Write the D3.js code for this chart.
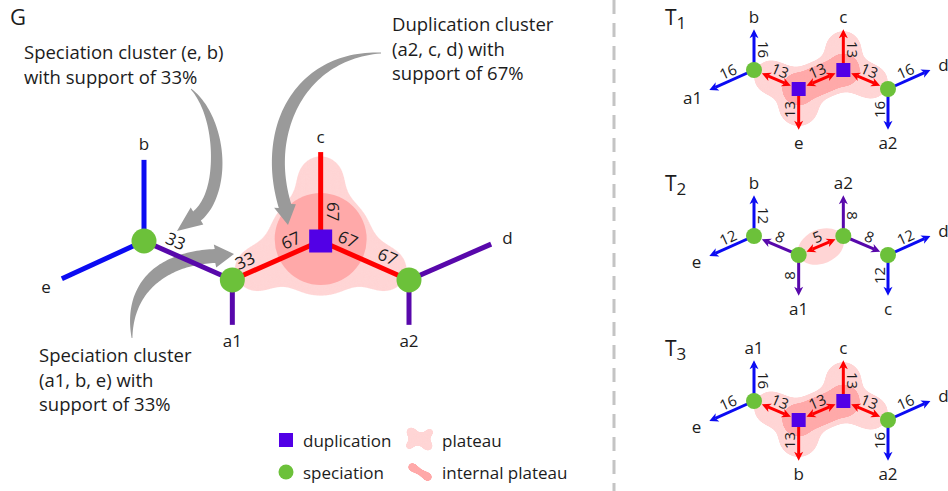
<!DOCTYPE html>
<html>
<head>
<meta charset="utf-8">
<script src="https://cdn.jsdelivr.net/npm/d3@7"></script>
<style>
  body { margin: 0; background: #fff; }
  text { font-family: "Open Sans", sans-serif; fill: #1c1c1c; }
</style>
</head>
<body>
<div id="chart"></div>
<script>
// ---------------- data ----------------
// main graph G : node layout in grid units
const gNodes = [
  { id: "s1", type: "spec", x: 0, y: 0 },
  { id: "s2", type: "spec", x: 1, y: 1 },
  { id: "d1", type: "dup", x: 2, y: 0 },
  { id: "s3", type: "spec", x: 3, y: 1 }
];
const gLeaves = [
  { id: "b", x: 0, y: -2.08 },
  { id: "e", x: -0.93, y: 0.97 },
  { id: "a1", x: 1, y: 2.15 },
  { id: "c", x: 2, y: -2.28 },
  { id: "d", x: 3.93, y: 0.08 },
  { id: "a2", x: 3, y: 2.15 }
];
// [from, to, kind]
const gEdges = [
  ["s1", "b", "leaf"], ["s1", "e", "leaf"], ["s1", "s2", "inner"], ["s2", "a1", "inner"],
  ["s2", "d1", "plateau"], ["d1", "c", "plateau"], ["d1", "s3", "plateau"],
  ["s3", "d", "inner"], ["s3", "a2", "inner"]
];
// [from, to, fraction along edge, support %]
const gSupport = [
  ["s1", "s2", 0.3, 33], ["s2", "d1", 0.2, 33], ["s2", "d1", 0.72, 67],
  ["d1", "c", 0.33, 67], ["d1", "s3", 0.25, 67], ["d1", "s3", 0.7, 67]
];
const callouts = [
  ["Speciation cluster (e, b)", "with support of 33%"],
  ["Duplication cluster", "(a2, c, d) with", "support of 67%"],
  ["Speciation cluster", "(a1, b, e) with", "support of 33%"]
];
const legendLabels = ["duplication", "speciation", "plateau", "internal plateau"];

// gene trees T1..T3
const treeNames = ["1", "2", "3"];
const treeTypes = [
  ["spec", "dup", "dup", "spec"],
  ["spec", "spec", "spec", "spec"],
  ["spec", "dup", "dup", "spec"]
];
// [parent node, leaf name, direction, kind, value]
const treeLeaves = [
  [[0, "b", "up", "leaf", 16], [0, "a1", "left", "leaf", 16], [1, "e", "down", "plateau", 13],
   [2, "c", "up", "plateau", 13], [3, "d", "right", "leaf", 16], [3, "a2", "down", "leaf", 16]],
  [[0, "b", "up", "leaf", 12], [0, "e", "left", "leaf", 12], [1, "a1", "down", "inner", 8],
   [2, "a2", "up", "inner", 8], [3, "d", "right", "leaf", 12], [3, "c", "down", "leaf", 12]],
  [[0, "a1", "up", "leaf", 16], [0, "e", "left", "leaf", 16], [1, "b", "down", "plateau", 13],
   [2, "c", "up", "plateau", 13], [3, "d", "right", "leaf", 16], [3, "a2", "down", "leaf", 16]]
];
// [from, to, heads, kind, value]
const treeLinks = [
  [[0, 1, "both", "plateau", 13], [1, 2, "both", "plateau", 13], [2, 3, "both", "plateau", 13]],
  [[1, 0, "end", "inner", 8], [1, 2, "both", "plateau", 5], [2, 3, "end", "inner", 8]],
  [[0, 1, "both", "plateau", 13], [1, 2, "both", "plateau", 13], [2, 3, "both", "plateau", 13]]
];
const treeNodeX = [0, 1, 2, 3];
const treeNodeY = [0, 1, 0, 1];

// ---------------- setup ----------------
const W = 948, H = 491;
const col = { leaf: "#0b0bf2", inner: "#5808ab", plateau: "#ff0000" };
const dupCol = "#5200e6", specCol = "#6cc13a";
const platCol = "#ffd5d5", innerPlatCol = "#ffa9a9";
const grey = "#9a9a9a";

const svg = d3.select("#chart").append("svg").attr("width", W).attr("height", H);
const defs = svg.append("defs");

function goo(id, sd) {
  const f = defs.append("filter").attr("id", id)
    .attr("x", "-50%").attr("y", "-50%").attr("width", "200%").attr("height", "200%")
    .attr("color-interpolation-filters", "sRGB");
  f.append("feGaussianBlur").attr("in", "SourceGraphic").attr("stdDeviation", sd).attr("result", "b");
  f.append("feColorMatrix").attr("in", "b").attr("type", "matrix")
    .attr("values", "1 0 0 0 0  0 1 0 0 0  0 0 1 0 0  0 0 0 24 -12");
}
goo("gooBig", 10);
goo("gooMid", 6);
goo("gooSmall", 3.5);

function lerp(a, b, t) { return [a[0] + (b[0] - a[0]) * t, a[1] + (b[1] - a[1]) * t]; }

// label angle: keep text readable, flip when pointing left / vertical
function readable(a) {
  if (a >= 89.9 || a <= -89.9) a += 180;
  if (a > 180) a -= 360;
  return a;
}
function edgeLabel(g, p, q, t, text, off, size) {
  const ang = Math.atan2(q[1] - p[1], q[0] - p[0]) * 180 / Math.PI;
  const a = readable(ang), r = a * Math.PI / 180;
  const m = lerp(p, q, t);
  const x = m[0] + Math.sin(r) * off, y = m[1] - Math.cos(r) * off;
  g.append("text").attr("transform", `translate(${x},${y}) rotate(${a})`)
    .attr("text-anchor", "middle").attr("dominant-baseline", "central")
    .style("font-size", size + "px").text(text);
}

// leaf name placed beyond the tip, pushed out by half its width when sideways
function leafLabel(g, p, q, text, size, base) {
  let dx = q[0] - p[0], dy = q[1] - p[1];
  const l = Math.hypot(dx, dy); dx /= l; dy /= l;
  const t = g.append("text").attr("text-anchor", "middle").attr("dominant-baseline", "central")
    .style("font-size", size + "px").text(text);
  const hw = t.node().getComputedTextLength() / 2;
  const off = base + hw * Math.abs(dx) + 5 * Math.abs(dy);
  t.attr("x", q[0] + dx * off).attr("y", q[1] + dy * off);
}

function blob(g, filter, color, circles, lines) {
  const b = g.append("g").attr("filter", `url(#${filter})`);
  circles.forEach(c => b.append("circle").attr("cx", c[0]).attr("cy", c[1]).attr("r", c[2]).attr("fill", color));
  lines.forEach(l => b.append("line").attr("x1", l[0][0]).attr("y1", l[0][1]).attr("x2", l[1][0]).attr("y2", l[1][1])
    .attr("stroke", color).attr("stroke-width", l[2]).attr("stroke-linecap", "round"));
}

// tapered curved call-out arrow
function taperArrow(g, p0, c1, c2, p3, tip, wMax, headW) {
  const n = 60, L = [], R = [];
  for (let i = 0; i <= n; i++) {
    const t = i / n, u = 1 - t;
    const x = u*u*u*p0[0] + 3*u*u*t*c1[0] + 3*u*t*t*c2[0] + t*t*t*p3[0];
    const y = u*u*u*p0[1] + 3*u*u*t*c1[1] + 3*u*t*t*c2[1] + t*t*t*p3[1];
    const dx = 3*u*u*(c1[0]-p0[0]) + 6*u*t*(c2[0]-c1[0]) + 3*t*t*(p3[0]-c2[0]);
    const dy = 3*u*u*(c1[1]-p0[1]) + 6*u*t*(c2[1]-c1[1]) + 3*t*t*(p3[1]-c2[1]);
    const len = Math.hypot(dx, dy) || 1;
    const nx = -dy / len, ny = dx / len;
    const w = (0.8 + (wMax - 0.8) * Math.sin(Math.min(1, t * 1.5) * Math.PI / 2)) / 2;
    L.push([x + nx * w, y + ny * w]);
    R.push([x - nx * w, y - ny * w]);
  }
  let dx = tip[0] - p3[0], dy = tip[1] - p3[1];
  const dl = Math.hypot(dx, dy); dx /= dl; dy /= dl;
  const hx = -dy * headW / 2, hy = dx * headW / 2;
  const p = d3.path();
  p.moveTo(L[0][0], L[0][1]);
  L.forEach(q => p.lineTo(q[0], q[1]));
  p.lineTo(p3[0] + hx, p3[1] + hy);
  p.lineTo(tip[0], tip[1]);
  p.lineTo(p3[0] - hx, p3[1] - hy);
  R.slice().reverse().forEach(q => p.lineTo(q[0], q[1]));
  p.closePath();
  g.append("path").attr("d", p.toString()).attr("fill", grey);
}

// ---------------- G ----------------
const gx = d3.scaleLinear().domain([0, 3]).range([144, 409]);
const gy = d3.scaleLinear().domain([0, 1]).range([241, 280]);
const gPos = {};
gNodes.forEach(d => gPos[d.id] = [gx(d.x), gy(d.y)]);
gLeaves.forEach(d => gPos[d.id] = [gx(d.x), gy(d.y)]);

const G = svg.append("g");
G.append("text").attr("x", 10).attr("y", 25).style("font-size", "22px").text("G");

// plateau (outer) and internal plateau
const D = gPos.d1;
blob(G, "gooBig", platCol, [[D[0], D[1] + 2, 54]], [
  [D, lerp(D, gPos.c, 0.7), 50],
  [D, lerp(D, gPos.s2, 0.73), 48],
  [D, lerp(D, gPos.s3, 0.73), 48]
]);
G.append("circle").attr("cx", D[0]).attr("cy", D[1] - 2).attr("r", 46).attr("fill", innerPlatCol);

// call-out arrows
taperArrow(G, [191, 89], [222, 118], [226, 192], [197, 216], [177, 231], 12, 21);
taperArrow(G, [381, 53], [300, 55], [262, 130], [285, 206], [288, 225], 13, 22);
taperArrow(G, [132, 338], [128, 285], [165, 258], [215, 256], [234, 254], 14, 23);

// edges
G.selectAll("line.edge").data(gEdges).enter().append("line").attr("class", "edge")
  .attr("x1", d => gPos[d[0]][0]).attr("y1", d => gPos[d[0]][1])
  .attr("x2", d => gPos[d[1]][0]).attr("y2", d => gPos[d[1]][1])
  .attr("stroke", d => col[d[2]]).attr("stroke-width", 5).attr("stroke-linecap", "butt");

// nodes
gNodes.forEach(d => {
  const p = gPos[d.id];
  if (d.type === "dup") {
    G.append("rect").attr("x", p[0] - 11.5).attr("y", p[1] - 11.5).attr("width", 23).attr("height", 23).attr("fill", dupCol);
  } else {
    G.append("circle").attr("cx", p[0]).attr("cy", p[1]).attr("r", 12.5).attr("fill", specCol);
  }
});

// support labels
gSupport.forEach(d => edgeLabel(G, gPos[d[0]], gPos[d[1]], d[2], d[3], 13, 17));

// leaf labels
gLeaves.forEach(d => {
  const par = gEdges.find(e => e[1] === d.id)[0];
  leafLabel(G, gPos[par], gPos[d.id], d.id, 17, 11);
});

// call-out texts
const calloutPos = [[24, 59], [392, 31], [39, 362]];
callouts.forEach((lines, i) => {
  const t = G.append("text").attr("x", calloutPos[i][0]).attr("y", calloutPos[i][1]).style("font-size", "18.5px");
  lines.forEach((s, j) => t.append("tspan").attr("x", calloutPos[i][0]).attr("dy", j ? 24.5 : 0).text(s));
});

// legend
const lg = G.append("g");
lg.append("rect").attr("x", 279).attr("y", 433).attr("width", 14).attr("height", 14).attr("fill", dupCol);
lg.append("circle").attr("cx", 286).attr("cy", 472).attr("r", 7.5).attr("fill", specCol);
blob(lg, "gooSmall", platCol, [[411, 432, 6], [428, 446, 6], [409, 446, 5], [430, 432, 5]], [[[411, 432], [428, 446], 9], [[409, 446], [430, 432], 6]]);
blob(lg, "gooSmall", innerPlatCol, [[412, 467, 5.5], [428, 477, 5.5]], [[[412, 467], [428, 477], 7]]);
const legX = [303, 303, 442, 442], legY = [440, 472, 440, 472];
legendLabels.forEach((s, i) => lg.append("text").attr("x", legX[i]).attr("y", legY[i])
  .attr("dominant-baseline", "central").style("font-size", "17px").text(s));

// separator
svg.append("line").attr("x1", 614).attr("x2", 614).attr("y1", 0).attr("y2", H)
  .attr("stroke", "#c4c4c4").attr("stroke-width", 3).attr("stroke-dasharray", "14 9");

// ---------------- T1..T3 ----------------
const tx = d3.scaleLinear().domain([0, 3]).range([754, 888]);
const dirUnits = { up: [0, -2.15], down: [0, 2.15], left: [-1, 1.05], right: [0.95, -1] };
const tops = [70, 236, 401];

function head(g, tip, from, color) {
  let dx = tip[0] - from[0], dy = tip[1] - from[1];
  const l = Math.hypot(dx, dy); dx /= l; dy /= l;
  const len = 9, hw = 4.5;
  const bx = tip[0] - dx * len, by = tip[1] - dy * len;
  const nx = tip[0] - dx * (len - 2.5), ny = tip[1] - dy * (len - 2.5);
  g.append("path").attr("d", `M${tip[0]},${tip[1]}L${bx - dy * hw},${by + dx * hw}L${nx},${ny}L${bx + dy * hw},${by - dx * hw}Z`)
    .attr("fill", color);
  return [nx, ny];
}
function arrowLine(g, p, q, heads, color) {
  let a = p, b = q;
  b = head(g, q, p, color);
  if (heads === "both") a = head(g, p, q, color);
  g.append("line").attr("x1", a[0]).attr("y1", a[1]).attr("x2", b[0]).attr("y2", b[1])
    .attr("stroke", color).attr("stroke-width", 3);
}
function shrink(p, q, r) {
  const dx = q[0] - p[0], dy = q[1] - p[1], l = Math.hypot(dx, dy);
  return [p[0] + dx / l * r, p[1] + dy / l * r];
}

treeNames.forEach((name, k) => {
  const ty = d3.scaleLinear().domain([0, 1]).range([tops[k], tops[k] + 19]);
  const g = svg.append("g");
  const pos = treeNodeX.map((x, i) => [tx(x), ty(treeNodeY[i])]);

  const tt = g.append("text").attr("x", 665).attr("y", tops[k] - 45).style("font-size", "21px").text("T");
  tt.append("tspan").attr("dy", 4).style("font-size", "17px").text(name);

  // plateaus
  if (treeTypes[k][1] === "dup") {
    const up = [pos[2][0], ty(-1.1)], dn = [pos[1][0], ty(1.9)];
    blob(g, "gooMid", platCol, [[pos[1][0], pos[1][1], 22], [pos[2][0], pos[2][1], 22]], [
      [pos[1], lerp(pos[1], pos[0], 0.62), 36],
      [pos[2], lerp(pos[2], pos[3], 0.62), 36],
      [pos[1], pos[2], 40],
      [pos[2], up, 38],
      [pos[1], dn, 42]
    ]);
    blob(g, "gooSmall", innerPlatCol, [[pos[1][0], pos[1][1], 17], [pos[2][0], pos[2][1], 17]], [[pos[1], pos[2], 30]]);
  } else {
    const m = lerp(pos[1], pos[2], 0.5);
    const a = Math.atan2(pos[2][1] - pos[1][1], pos[2][0] - pos[1][0]) * 180 / Math.PI;
    g.append("ellipse").attr("transform", `translate(${m[0]},${m[1] + 1}) rotate(${a})`)
      .attr("rx", 24).attr("ry", 17).attr("fill", platCol);
  }

  // leaf arrows
  treeLeaves[k].forEach(d => {
    const p = pos[d[0]], u = dirUnits[d[2]];
    const q = [tx(treeNodeX[d[0]] + u[0]), ty(treeNodeY[d[0]] + u[1])];
    arrowLine(g, p, q, "end", col[d[3]]);
    edgeLabel(g, p, q, 0.5, d[4], 9.5, 15);
    leafLabel(g, p, q, d[1], 17, 7.5);
  });

  // internal links
  treeLinks[k].forEach(d => {
    const p = pos[d[0]], q = pos[d[1]];
    const a = d[2] === "both" ? shrink(p, q, 8.5) : p;
    const b = shrink(q, p, 8.5);
    arrowLine(g, a, b, d[2], col[d[3]]);
    edgeLabel(g, p, q, 0.5, d[4], 10, 15);
  });

  // nodes
  pos.forEach((p, i) => {
    if (treeTypes[k][i] === "dup") {
      g.append("rect").attr("x", p[0] - 7).attr("y", p[1] - 7).attr("width", 14).attr("height", 14).attr("fill", dupCol);
    } else {
      g.append("circle").attr("cx", p[0]).attr("cy", p[1]).attr("r", 8).attr("fill", specCol);
    }
  });
});
</script>
</body>
</html>
